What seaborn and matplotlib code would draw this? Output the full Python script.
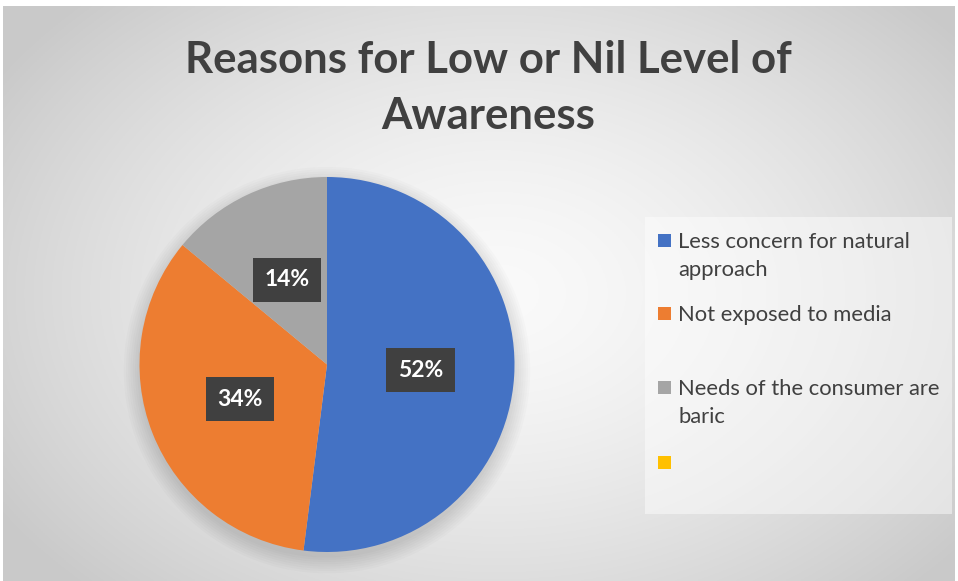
import numpy as np
import matplotlib
matplotlib.use("Agg")
import matplotlib.pyplot as plt
from matplotlib.patches import Rectangle, Circle
import seaborn as sns

categories = ["Less concern for natural\napproach", "Not exposed to media",
              "Needs of the consumer are\nbaric", ""]
values = [52, 34, 14, 0]
colors = ["#4472C4", "#ED7D31", "#A5A5A5", "#FFC000"]
title = "Reasons for Low or Nil Level of\nAwareness"

sns.set_theme(style="white")
plt.rcParams["font.family"] = ["Lato", "DejaVu Sans"]

W, H = 958, 581
fig = plt.figure(figsize=(W / 100, H / 100), dpi=100)
fig.patch.set_facecolor("white")

# background radial gradient
bg = fig.add_axes([3 / W, 0, (955 - 3) / W, (581 - 6) / H])
bg.set_axis_off()
yy, xx = np.mgrid[0:1:300j, 0:1:500j]
d = np.sqrt(((xx - 0.52) / 0.62) ** 2 + ((yy - 0.5) / 0.72) ** 2)
d = np.clip(d, 0, 1)
g = 0.98 - 0.19 * d ** 1.5
img = np.dstack([g, g, g])
bg.imshow(img, aspect="auto", extent=[0, 1, 0, 1], origin="lower")
bg.set_xlim(0, 1)
bg.set_ylim(0, 1)

# legend panel
fig.patches.append(Rectangle((645 / W, 1 - 514 / H), 307 / W, 297 / H,
                             transform=fig.transFigure, facecolor="white",
                             alpha=0.45, edgecolor="none", zorder=1))

# pie
cx, cy, r = 327, 364.5, 187.5
ax = fig.add_axes([(cx - r) / W, 1 - (cy + r) / H, 2 * r / W, 2 * r / H])
ax.set_facecolor("none")

# soft shadow behind the pie
for k in range(8):
    ax.add_patch(Circle((0, -0.03), 1.0 + 0.012 * k, facecolor="black",
                        alpha=0.016, edgecolor="none", zorder=0, clip_on=False))


def fmt(p):
    return "" if p < 0.5 else f"{p:.0f}%"


wedges, texts, autotexts = ax.pie(values, colors=colors, startangle=90, counterclock=False,
                                  autopct=fmt, pctdistance=0.5,
                                  wedgeprops=dict(linewidth=0, zorder=2),
                                  textprops=dict(color="white", fontsize=16.5, fontweight="bold"))
for t in autotexts:
    t.set_zorder(5)
    if t.get_text():
        t.set_bbox(dict(boxstyle="square,pad=0.5", facecolor="#404040", edgecolor="none"))
ax.set_xlim(-1, 1)
ax.set_ylim(-1, 1)
ax.set_axis_off()

fig.text(488 / W, 1 - 88 / H, title, ha="center", va="center", multialignment="center",
         fontsize=31.5, fontweight="bold", color="#404040", linespacing=1.5)

# legend entries
legend_y = [240, 313, 387, 462]
line_gap = 28
for cat, col, y in zip(categories, colors, legend_y):
    fig.patches.append(Rectangle((658 / W, 1 - (y + 6.5) / H), 13 / W, 13 / H,
                                 transform=fig.transFigure, facecolor=col,
                                 edgecolor="none", zorder=3))
    if cat:
        for i, line in enumerate(cat.split("\n")):
            fig.text(678 / W, 1 - (y + 8 + i * line_gap) / H, line, ha="left",
                     va="baseline", fontsize=15.8, color="#404040")

fig.savefig("out.png", dpi=100)
